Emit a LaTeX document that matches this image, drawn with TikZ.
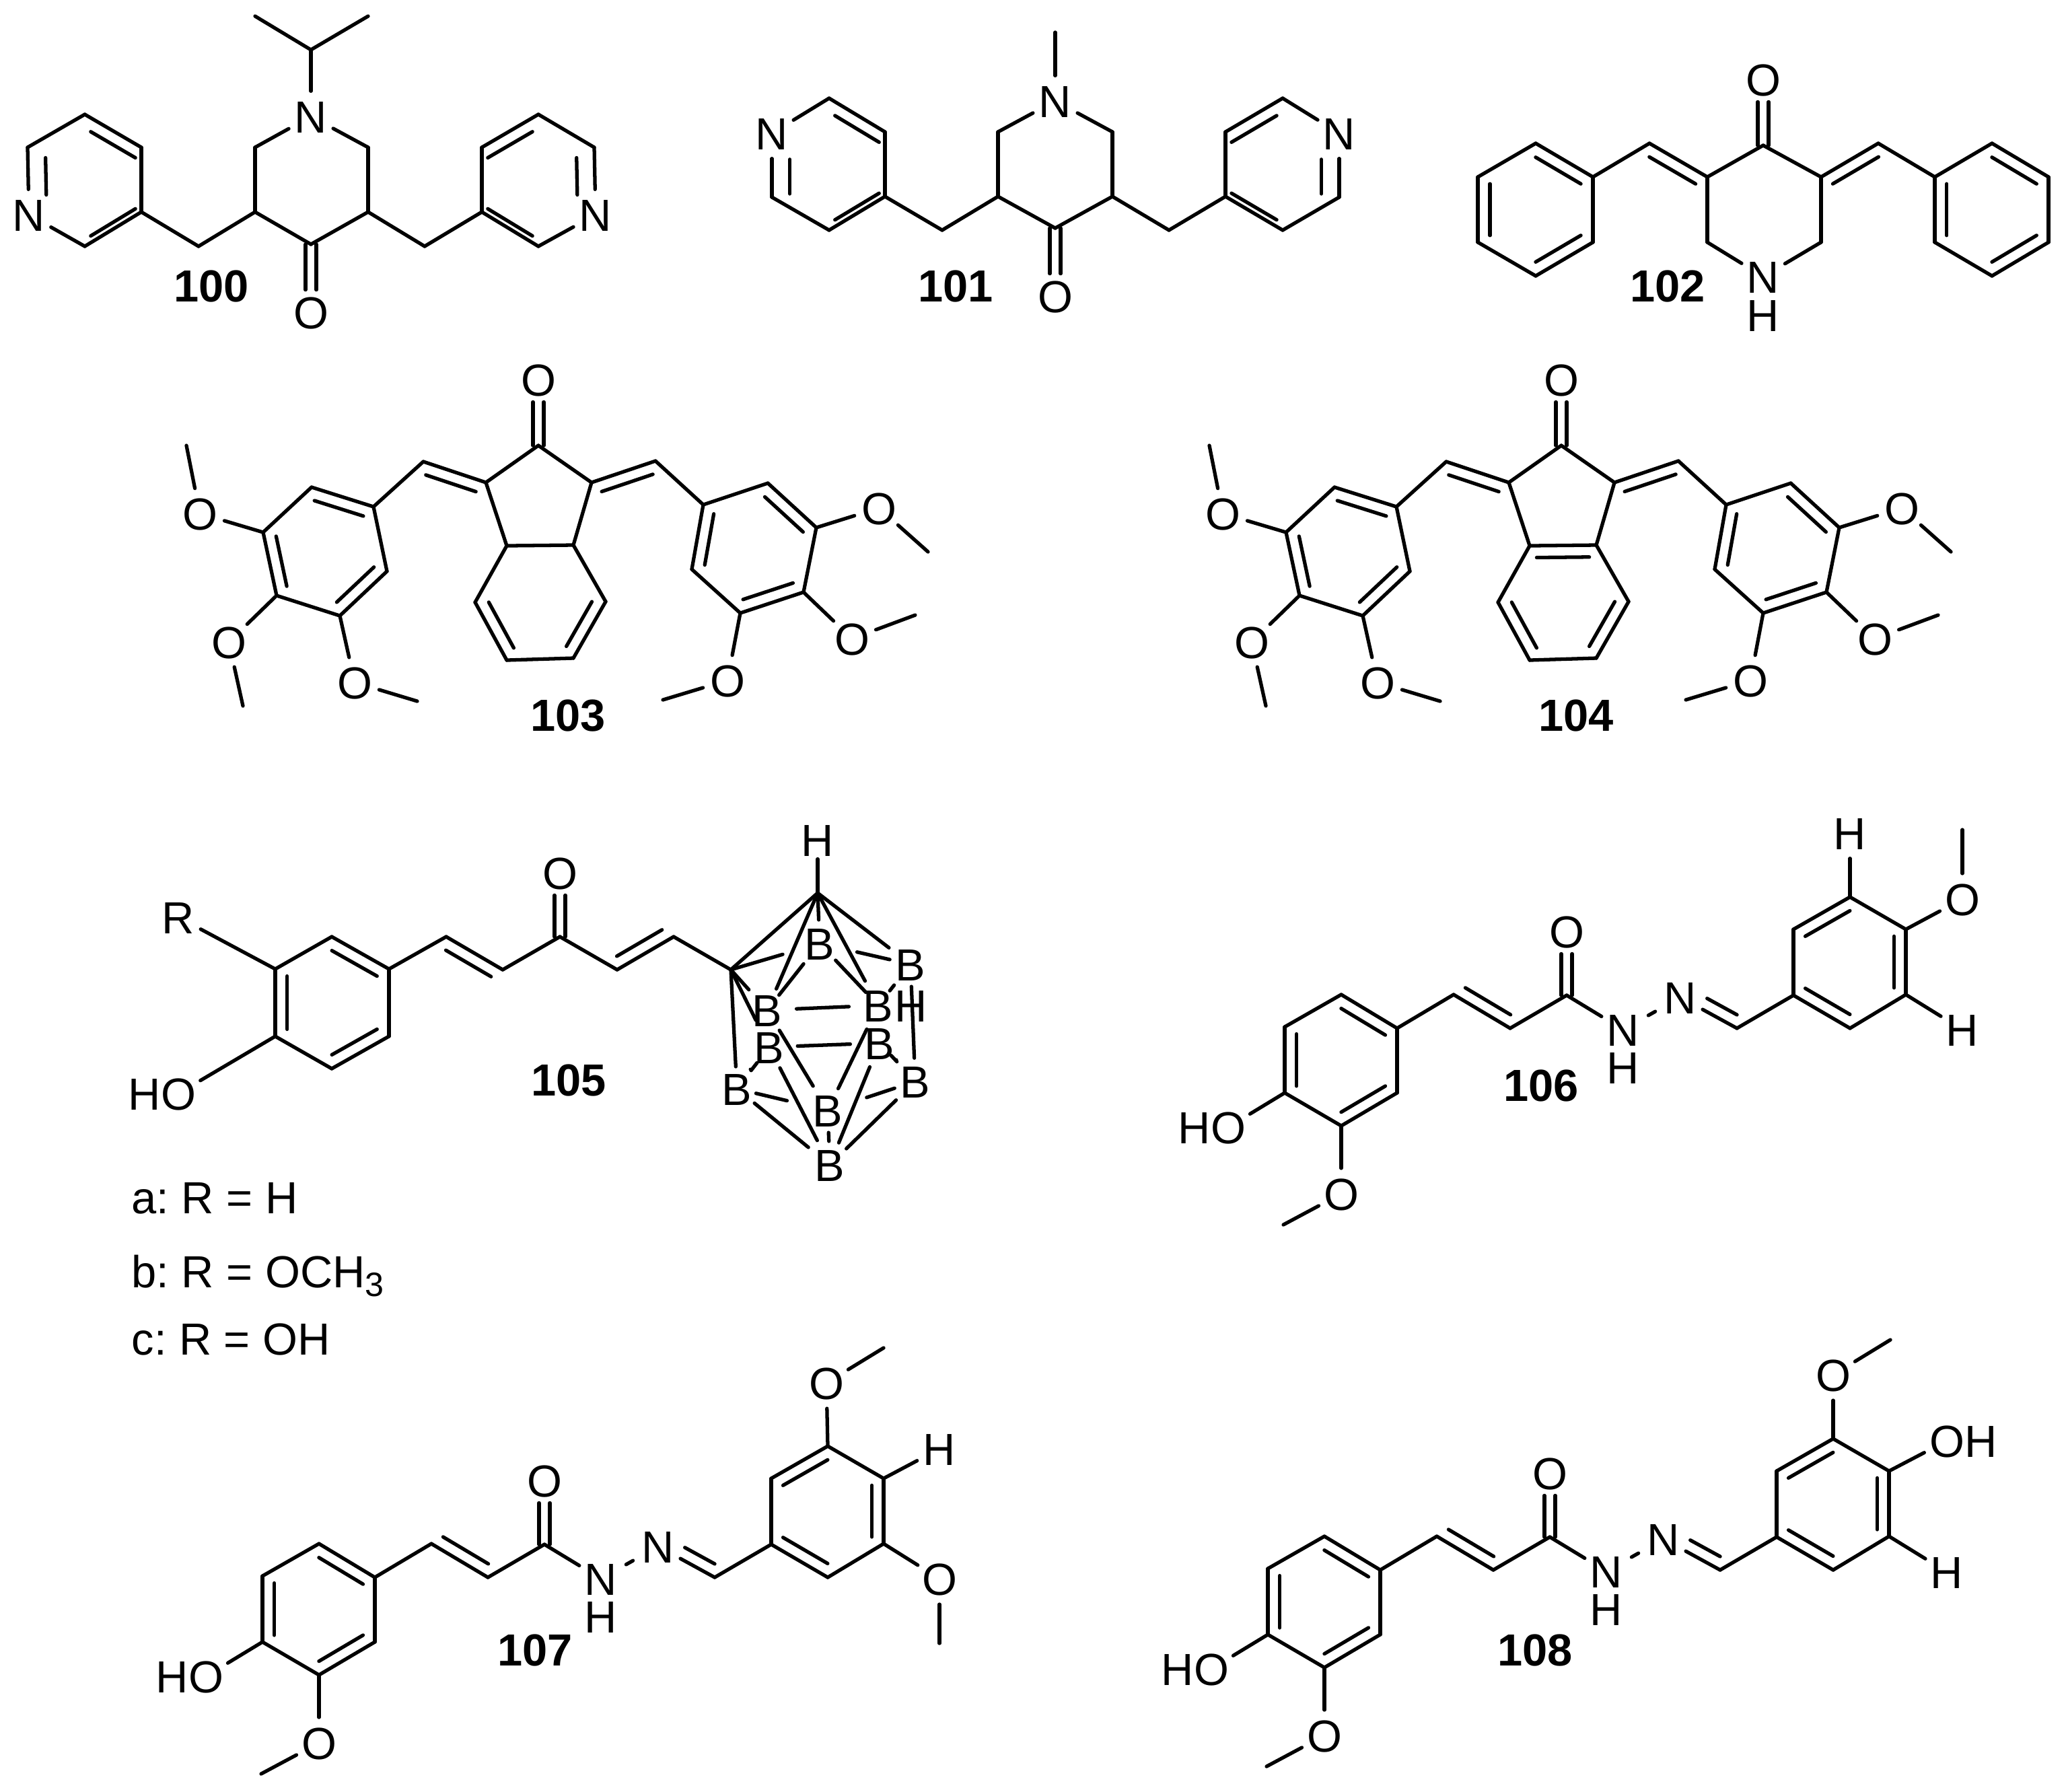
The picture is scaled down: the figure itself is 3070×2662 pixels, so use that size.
\documentclass[tikz,border=0pt]{standalone}
\usepackage{fontspec}
\setmainfont{Liberation Sans}
\usetikzlibrary{calc}
\tikzset{
  atom/.style={circle, inner sep=0pt, minimum size=0.7cm, text height=0.48cm, text depth=0pt, font=\fontsize{19}{19}\selectfont},
  bare/.style={atom, minimum size=0pt},
  molname/.style={inner sep=0pt, text height=0.48cm, text depth=0pt, font=\fontsize{19}{19}\selectfont\bfseries},
  rowtext/.style={anchor=base west, inner sep=0pt, font=\fontsize{19}{19}\selectfont\frenchspacing}
}
% inner line of a ring bond, pulled towards the ring centre
\newcommand{\inbond}[4][]{\draw[#1] ($(#2)!0.21!(#4)$) -- ($(#3)!0.21!(#4)$);}
% inner line of a chain bond, on the left of the first -> second atom
\newcommand{\sidebond}[3][]{\draw[#1] ($($(#2)!0.1!(#3)$)!5pt!90:(#3)$) -- ($($(#3)!0.1!(#2)$)!5pt!-90:(#2)$);}
% carbonyl
\newcommand{\twobond}[2]{
\draw[shorten >=9.5pt] ($(#1)!2.3pt!90:(#2)$) -- ($(#2)!2.3pt!-90:(#1)$);
\draw[shorten >=9.5pt] ($(#1)!2.3pt!-90:(#2)$) -- ($(#2)!2.3pt!90:(#1)$);
}
\begin{document}
\begin{tikzpicture}[x=0.01cm,y=-0.01cm,line width=1.5pt,line cap=round]
\useasboundingbox (0,0) rectangle (3070,2662);
% 100
\foreach \n/\x/\y in {am1/379/24,am2/547/24,ai/462/74,a1/379/219,a2/547/219,a3/547/315,a4/462/363,a5/379/315,
  ac1/295/366,ac2/631/366,l1/210/315,l2/210/219,l3/126/170,l4/41/219,l6/126/366,
  r1/716/315,r2/716/219,r3/800/170,r4/883/219,r6/800/366}
  \coordinate (\n) at (\x,\y);
\node[atom] (an) at (462,173) {N};
\node[atom] (ao) at (462,464) {O};
\node[atom] (ln) at (43,319) {N};
\node[atom] (rn) at (885,319) {N};
\node[molname] (name100) at (314,424) {100};
\coordinate (lc) at ($(l2)!0.5!(l6)$);
\coordinate (rc) at ($(r2)!0.5!(r6)$);
\foreach \a/\b in {am1/ai,am2/ai,ai/an,an/a1,a1/a5,a5/a4,a4/a3,a3/a2,a2/an,a5/ac1,ac1/l1,l1/l2,l2/l3,l3/l4,l4/ln,ln/l6,l6/l1,
  a3/ac2,ac2/r1,r1/r2,r2/r3,r3/r4,r4/rn,rn/r6,r6/r1}
  \draw (\a) -- (\b);
\twobond{a4}{ao}
\inbond{l3}{l2}{lc}
\inbond{l1}{l6}{lc}
\inbond[shorten >=6.8pt]{l4}{ln}{lc}
\inbond{r3}{r2}{rc}
\inbond{r1}{r6}{rc}
\inbond[shorten >=6.8pt]{r4}{rn}{rc}
% 101
\foreach \n/\x/\y in {bm/1568/48,b1/1483/196,b2/1653/196,b3/1653/292,b4/1568/339,b5/1483/292,
  bc1/1400/342,bc2/1737/342,s1/1315/292,s2/1315/196,s3/1232/146,s5/1147/293,s6/1232/342,
  t1/1821/292,t2/1821/196,t3/1906/146,t5/1990/293,t6/1906/342}
  \coordinate (\n) at (\x,\y);
\node[atom] (bn) at (1568,150) {N};
\node[atom] (bo) at (1568,440) {O};
\node[atom] (sn) at (1147,198) {N};
\node[atom] (tn) at (1990,198) {N};
\node[molname] (name101) at (1420,424) {101};
\coordinate (sc) at ($(s2)!0.5!(s6)$);
\coordinate (tc) at ($(t2)!0.5!(t6)$);
\foreach \a/\b in {bm/bn,bn/b1,b1/b5,b5/b4,b4/b3,b3/b2,b2/bn,b5/bc1,bc1/s1,s1/s2,s2/s3,s3/sn,sn/s5,s5/s6,s6/s1,
  b3/bc2,bc2/t1,t1/t2,t2/t3,t3/tn,tn/t5,t5/t6,t6/t1}
  \draw (\a) -- (\b);
\twobond{b4}{bo}
\inbond{s3}{s2}{sc}
\inbond{s1}{s6}{sc}
\inbond[shorten <=6.8pt]{sn}{s5}{sc}
\inbond{t3}{t2}{tc}
\inbond{t1}{t6}{tc}
\inbond[shorten <=6.8pt]{tn}{t5}{tc}
% 102
\foreach \n/\x/\y in {p1/2620/216,p2/2537/263,p3/2706/263,p4/2537/360,p5/2706/360,pc1/2451/213,pc2/2791/213,
  u1/2367/263,u2/2282/213,u3/2196/263,u4/2196/360,u5/2282/410,u6/2367/360,
  v1/2875/263,v2/2960/213,v3/3044/263,v4/3044/360,v5/2960/410,v6/2875/360}
  \coordinate (\n) at (\x,\y);
\node[atom] (po) at (2620,118) {O};
\node[atom] (pn) at (2620,411) {N};
\node[bare] (ph) at (2620,468) {H};
\node[molname] (name102) at (2478,424) {102};
\coordinate (uc) at ($(u1)!0.5!(u4)$);
\coordinate (vc) at ($(v1)!0.5!(v4)$);
\foreach \a/\b in {p1/p2,p1/p3,p2/p4,p3/p5,p4/pn,p5/pn,p2/pc1,pc1/u1,u1/u2,u2/u3,u3/u4,u4/u5,u5/u6,u6/u1,
  p3/pc2,pc2/v1,v1/v2,v2/v3,v3/v4,v4/v5,v5/v6,v6/v1}
  \draw (\a) -- (\b);
\twobond{p1}{po}
\sidebond{p2}{pc1}
\sidebond{pc2}{p3}
\foreach \a/\b in {u2/u1,u3/u4,u5/u6} {
  \inbond{\a}{\b}{uc}
}
\foreach \a/\b in {v2/v3,v1/v6,v5/v4} {
  \inbond{\a}{\b}{vc}
}
% 103 and 104
\foreach \m/\dx in {d/0,e/1520} {
\begin{scope}[shift={(\dx,0)}]
\foreach \n/\x/\y in {1/800/662,2/722/717,3/879/717,4/753/811,5/852/810,6/706/895,7/900/894,8/753/981,9/852/978,
  10/629/686,11/974/685,12/555/753,13/463/724,14/391/791,15/411/885,16/505/915,17/575/849,
  18/1045/750,19/1141/718,20/1213/784,21/1194/880,22/1100/911,23/1028/846,
  24/277/662,25/361/1049,26/620/1042,27/1379/820,28/1360/914,29/985/1040}
  \coordinate (\m\n) at (\x,\y);
\foreach \n/\x/\y in {o0/800/564,o1/297/763,o2/340/954,o3/527/1014,o4/1306/755,o5/1266/949,o6/1081/1011}
  \node[atom] (\m\n) at (\x,\y) {O};
\coordinate (\m ca) at ($(\m12)!0.5!(\m15)$);
\coordinate (\m cb) at ($(\m18)!0.5!(\m21)$);
\coordinate (\m cc) at ($(\m4)!0.5!(\m9)$);
\foreach \a/\b in {1/2,1/3,2/4,3/5,4/5,4/6,6/8,8/9,9/7,7/5,2/10,3/11,10/12,11/18,12/13,13/14,14/15,15/16,16/17,17/12,
  18/19,19/20,20/21,21/22,22/23,23/18,14/o1,o1/24,15/o2,o2/25,16/o3,o3/26,20/o4,o4/27,21/o5,o5/28,22/o6,o6/29}
  \draw (\m\a) -- (\m\b);
\twobond{\m1}{\m o0}
\sidebond{\m2}{\m10}
\sidebond{\m11}{\m3}
\foreach \a/\b/\c in {6/8/cc,7/9/cc,12/13/ca,14/15/ca,16/17/ca,19/20/cb,18/23/cb,21/22/cb} {
  \inbond{\m\a}{\m\b}{\m\c}
}
\end{scope}
}
\inbond{e4}{e5}{ecc}
\node[molname] (name103) at (844,1062) {103};
\node[molname] (name104) at (2342,1062) {104};
% 105
\foreach \n/\x/\y in {w1/409/1440,w2/493/1392,w3/578/1440,w4/578/1540,w5/493/1588,w6/409/1540,
  w7/663/1392,w8/747/1441,w9/832/1392,w10/917/1441,w11/1001/1392}
  \coordinate (\n) at (\x,\y);
\node[atom] (wr) at (265,1363) {R};
\node[atom] (wh) at (265,1625) {\llap{H}O};
\node[atom] (wo) at (832,1297) {O};
\node[molname] (name105) at (845,1604) {105};
\coordinate (wc) at ($(w1)!0.5!(w4)$);
\foreach \a/\b in {wr/w1,wh/w6,w1/w2,w2/w3,w3/w4,w4/w5,w5/w6,w6/w1,w3/w7,w7/w8,w8/w9,w9/w10,w10/w11}
  \draw (\a) -- (\b);
\twobond{w9}{wo}
\foreach \a/\b in {w2/w3,w1/w6,w5/w4} {
  \inbond{\a}{\b}{wc}
}
\sidebond{w8}{w7}
\sidebond{w10}{w11}
\coordinate (cap) at (1215,1327);
\coordinate (cc) at (1086,1441);
\node[atom] (h1) at (1215,1248) {H};
\node[bare] (h2) at (1354,1494) {H};
\foreach \n/\x/\y in {1/1218/1402,2/1353/1433,3/1140/1501,4/1305/1494,5/1143/1556,6/1307/1550,
  7/1095/1618,8/1360/1607,9/1230/1650,10/1233/1731}
  \node[bare] (q\n) at (\x,\y) {B};
\draw (w11) -- (cc) -- (cap);
\foreach \a/\b/\s/\e in {h1/cap/8.1/0,cap/q1/0/10,cap/q3/0/9.8,cap/q4/0/11.7,cap/q2/0/11.5,
  cc/q1/0/16.3,cc/q3/0/11.6,cc/q5/0/12.7,cc/q7/0/9.4,q1/q3/11/8.1,q1/q4/9.8/7.6,q1/q2/16.2/9,
  q3/q4/12.4/12.4,q5/q6/12/12.4,q2/q4/11.2/7.9,q2/q8/9.4/9.9,q5/q7/8.4/9.8,q3/q9/10/12,q4/q9/11.2/10.2,
  q5/q10/9.9/11.6,q6/q10/10.9/10.1,q6/q8/7.2/11.4,q8/q9/9.2/17.3,q8/q10/11.3/9.8,q7/q9/8.3/17.7,
  q7/q10/9.6/11.7,q9/q10/9.4/10}
  \draw[shorten <=\s pt,shorten >=\e pt] (\a.center) -- (\b.center);
\fill (1115,1589) circle (2.5);
\fill (1332,1575) circle (2.5);
\node[rowtext] (rowa) at (193,1803) {a: R = H};
\node[rowtext] (rowb) at (193,1913) {b: R = OCH\raisebox{-3.9pt}{\fontsize{14.3}{14.3}\selectfont 3}};
\node[rowtext] (rowc) at (193,2013) {c: R = OH};
% 106, 107 and 108
\foreach \m/\dx/\dy in {f/0/0,g/-1519/816,k/-25/805} {
\begin{scope}[shift={(\dx,\dy)}]
\foreach \n/\x/\y in {1/2076/1528,2/1993/1478,3/1909/1526,4/1909/1624,5/1993/1673,6/2076/1624,7/1907/1820,
  8/2160/1478,9/2244/1528,10/2328/1479,11/2581/1528,12/2665/1479,13/2665/1381,14/2749/1333,15/2832/1381,16/2832/1478,17/2749/1528}
  \coordinate (\m\n) at (\x,\y);
\node[atom] (\m ho) at (1825,1675) {\llap{H}O};
\node[atom] (\m om) at (1993,1774) {O};
\node[atom] (\m oc) at (2328,1384) {O};
\node[atom] (\m nh) at (2412,1530) {N};
\node[bare] (\m hh) at (2412,1586) {H};
\node[atom] (\m nn) at (2497,1482) {N};
\coordinate (\m ca) at ($(\m1)!0.5!(\m4)$);
\coordinate (\m cb) at ($(\m12)!0.5!(\m15)$);
\foreach \a/\b in {1/2,2/3,3/4,4/5,5/6,6/1,4/ho,5/om,om/7,1/8,8/9,9/10,10/nh,nn/11,11/12,12/13,13/14,14/15,15/16,16/17,17/12}
  \draw (\m\a) -- (\m\b);
\draw[shorten <=1.5pt,shorten >=1.5pt] (\m nh) -- (\m nn);
\twobond{\m10}{\m oc}
\sidebond{\m8}{\m9}
\sidebond[shorten <=7.4pt]{\m nn}{\m11}
\foreach \a/\b/\c in {1/2/ca,3/4/ca,5/6/ca,13/14/cb,15/16/cb,12/17/cb} {
  \inbond{\m\a}{\m\b}{\m\c}
}
\end{scope}
}
% 106 substituents
\node[atom] (fh1) at (2749,1238) {H};
\node[atom] (fh2) at (2916,1530) {H};
\node[atom] (fo1) at (2916,1336) {O};
\coordinate (fm1) at (2916,1233);
\node[molname] (name106) at (2290,1612) {106};
\foreach \a/\b in {f14/fh1,f16/fh2,f15/fo1,fo1/fm1}
  \draw (\a) -- (\b);
% 107 substituents
\node[atom] (go1) at (1228,2055) {O};
\node[atom] (gh1) at (1396,2153) {H};
\node[atom] (go2) at (1396,2346) {O};
\coordinate (gm1) at (1313,2003);
\coordinate (gm2) at (1396,2442);
\node[molname] (name107) at (795,2451) {107};
\foreach \a/\b in {g14/go1,go1/gm1,g15/gh1,g16/go2,go2/gm2}
  \draw (\a) -- (\b);
% 108 substituents
\node[atom] (ko1) at (2724,2043) {O};
\node[atom] (ko2) at (2893,2141) {O\rlap{H}};
\node[atom] (kh1) at (2893,2336) {H};
\coordinate (km1) at (2809,1991);
\node[molname] (name108) at (2281,2451) {108};
\foreach \a/\b in {k14/ko1,ko1/km1,k15/ko2,k16/kh1}
  \draw (\a) -- (\b);
\end{tikzpicture}
\end{document}
